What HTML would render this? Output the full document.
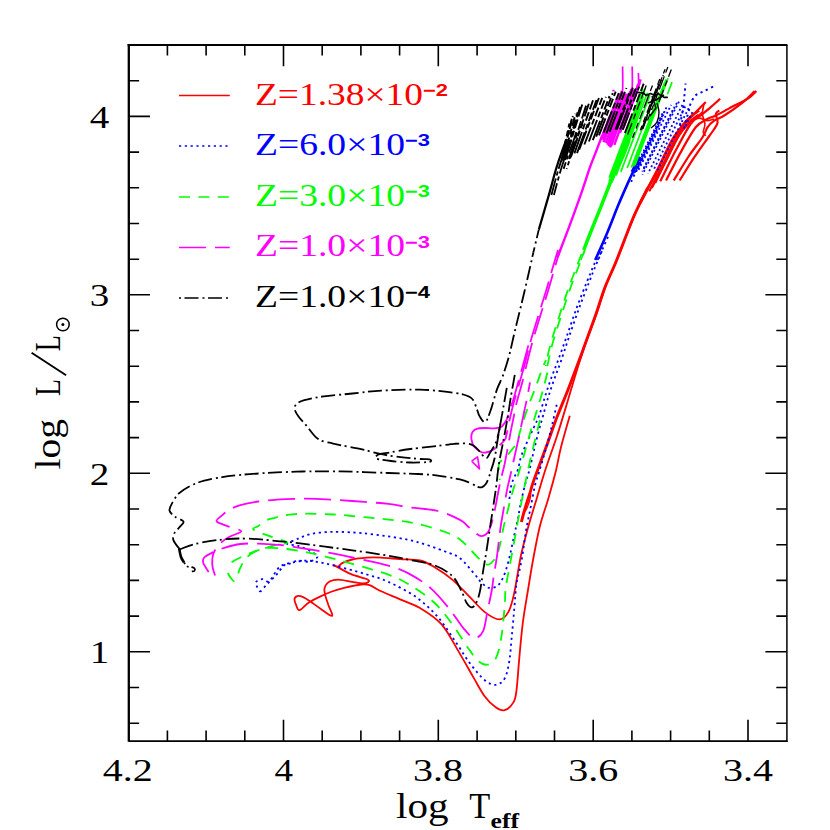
<!DOCTYPE html>
<html><head><meta charset="utf-8"><title>HR diagram</title>
<style>
html,body{margin:0;padding:0;background:#fff;}
body{width:830px;height:830px;overflow:hidden;font-family:"Liberation Serif",serif;}
svg{display:block;}
text{font-family:"Liberation Serif",serif;}
.sub{font-family:"Liberation Sans",sans-serif;font-weight:bold;}
</style></head><body>
<svg width="830" height="830" viewBox="0 0 830 830">
<rect width="830" height="830" fill="#fff"/>

<g fill="none" stroke-linejoin="round" stroke-linecap="butt">
<g stroke="#f00">
<path d="M569.8 415.7C568.3 420.9 563.4 437.6 561.1 446.7C558.8 455.8 558.2 461.3 556.1 470.0C554.0 478.7 551.0 489.3 548.2 498.9C545.4 508.5 542.1 516.9 539.5 527.8C536.9 538.6 534.2 553.6 532.3 564.0C530.4 574.4 529.6 580.2 528.0 590.0C526.4 599.8 524.3 611.3 522.8 623.0C521.3 634.7 520.1 649.4 519.1 660.4C518.1 671.4 517.5 682.4 516.6 689.3C515.7 696.2 515.7 698.4 513.7 701.9C511.7 705.4 507.7 709.3 504.7 710.2C501.7 711.1 499.0 709.6 495.7 707.3C492.4 705.0 488.4 701.3 484.8 696.5C481.2 691.7 478.2 685.6 474.0 678.4C469.8 671.2 464.9 662.1 459.5 653.1C454.1 644.1 448.0 631.7 441.4 624.2C434.8 616.7 426.9 612.2 420.0 608.0C413.1 603.8 406.5 602.1 400.0 599.3C393.5 596.5 386.3 593.7 381.2 591.3C376.1 589.0 373.0 586.2 369.6 585.1C366.3 584.0 365.1 584.1 361.0 584.5C356.9 585.0 350.1 586.5 345.1 587.7C340.0 589.0 334.7 590.6 330.6 592.0C326.5 593.5 324.1 594.6 320.5 596.4C316.9 598.1 312.4 600.2 308.9 602.5C305.4 604.7 301.6 609.7 299.5 610.1C297.4 610.6 297.0 606.9 296.2 605.1C295.3 603.2 294.3 600.8 294.5 599.3C294.6 597.8 295.9 596.5 297.3 596.1C298.8 595.7 301.0 596.2 303.1 597.1C305.3 598.0 307.5 599.5 310.4 601.4C313.3 603.4 316.9 606.3 320.5 608.7C324.1 611.1 330.7 616.5 332.0 615.9C333.4 615.3 329.6 608.6 328.4 605.1C327.3 601.6 325.8 597.7 325.1 594.9C324.5 592.2 324.1 590.4 324.5 588.4C324.9 586.5 325.9 584.5 327.4 583.1C328.9 581.7 331.3 580.7 333.5 580.2C335.7 579.6 337.6 579.5 340.7 579.8C343.9 580.0 348.7 581.3 352.3 581.9C355.9 582.5 359.7 583.4 362.4 583.4C365.1 583.4 367.8 582.6 368.5 581.9C369.2 581.2 369.4 580.2 366.7 579.0C364.0 577.8 356.4 576.3 352.3 574.7C348.2 573.1 345.3 571.3 342.2 569.6C339.0 568.0 334.2 565.3 333.5 564.9C332.8 564.4 336.4 567.0 337.8 566.7C339.3 566.5 339.8 564.3 342.2 563.1C344.6 561.9 348.2 560.4 352.3 559.5C356.4 558.6 361.9 558.0 366.7 557.6C371.6 557.3 375.7 557.4 381.2 557.6C386.7 557.9 393.5 558.6 400.0 559.1C406.5 559.6 414.3 559.2 420.0 560.5C425.7 561.8 428.8 563.8 434.2 567.0C439.6 570.2 446.3 574.5 452.3 579.6C458.3 584.7 465.0 592.3 470.4 597.7C475.8 603.1 480.0 608.5 484.8 612.1C489.6 615.7 495.4 619.4 499.3 619.4C503.2 619.4 505.9 616.3 508.3 612.1C510.8 607.9 511.9 603.3 514.0 594.1C516.1 584.9 518.4 567.8 520.7 556.7C523.0 545.7 525.4 537.4 528.0 527.8C530.6 518.2 533.7 508.5 536.6 498.9C539.5 489.3 541.9 480.5 545.3 470.0C548.7 459.5 553.2 447.7 557.0 436.0C560.8 424.3 564.7 411.0 568.0 400.0C571.3 389.0 574.1 379.3 577.0 370.0C579.9 360.7 582.1 353.6 585.4 344.0C588.7 334.4 593.6 321.8 597.0 312.2C600.4 302.6 602.4 294.8 605.7 286.1C609.0 277.4 613.4 268.7 616.9 260.0C620.4 251.3 623.9 241.9 627.0 234.0C630.1 226.1 632.1 220.3 635.7 212.3C639.3 204.3 645.1 192.5 648.7 186.0C652.3 179.5 655.7 175.5 657.1 173.4" stroke-width="1.8"/>
<path d="M521.4 522.0C521.8 520.3 523.1 515.3 524.0 512.0C524.9 508.7 526.0 505.2 527.0 502.0C528.0 498.8 528.9 496.5 530.0 493.0C531.1 489.5 531.1 488.2 533.6 481.0C536.1 473.8 541.4 460.1 545.2 449.6C549.1 439.1 552.9 427.9 556.7 417.8C560.6 407.7 564.7 398.2 568.3 388.9C571.9 379.6 575.8 369.1 578.5 362.0C581.2 354.9 581.5 354.0 584.4 346.0C587.3 338.0 592.6 323.7 596.0 314.0C599.4 304.3 601.4 296.7 604.7 288.0C608.0 279.3 612.4 270.7 615.9 262.0C619.4 253.3 622.9 243.9 626.0 236.0C629.1 228.1 631.1 222.3 634.7 214.3C638.3 206.3 645.5 192.4 647.7 188.0" stroke-width="2.9"/>
<path d="M524.5 512.0C525.0 510.0 526.5 503.0 527.5 500.0C528.5 497.0 530.1 494.2 530.5 494.0C530.9 493.8 530.6 496.7 530.0 499.0C529.4 501.3 527.9 505.8 527.0 508.0C526.1 510.2 524.9 511.3 524.5 512.0" stroke-width="1.4"/>
<path d="M640.0 203.2C642.8 197.9 651.2 182.2 656.9 171.2C662.5 160.2 668.1 146.5 673.7 137.5C679.4 128.5 686.4 121.7 690.6 117.2C694.8 112.7 697.6 111.6 699.0 110.5" stroke-width="2.8"/>
<path d="M655.2 183.0C657.4 178.2 664.2 163.9 668.7 154.3C673.2 144.8 677.7 132.7 682.2 125.7C686.7 118.6 691.7 116.1 695.7 112.2C699.6 108.2 704.1 103.7 705.8 102.0" stroke-width="2.2"/>
<path d="M660.2 181.3C662.8 176.3 670.4 160.5 675.4 151.0C680.5 141.4 686.4 129.9 690.6 124.0C694.8 118.1 697.3 118.3 700.7 115.5C704.1 112.7 707.6 109.9 710.8 107.1C714.1 104.3 718.6 100.1 720.1 98.7" stroke-width="2.2"/>
<path d="M666.1 180.5C668.5 175.8 675.6 161.5 680.5 152.6C685.4 143.8 691.2 133.0 695.7 127.3C700.2 121.7 704.1 120.9 707.5 118.9C710.8 116.9 711.4 117.8 715.9 115.5C720.4 113.3 729.1 108.2 734.5 105.4C739.8 102.6 744.3 101.1 747.9 98.7C751.6 96.3 755.0 92.3 756.4 91.1" stroke-width="2.2"/>
<path d="M673.7 180.5C676.3 176.4 684.1 163.2 688.9 156.0C693.7 148.8 699.3 142.2 702.4 137.5C705.5 132.7 705.5 130.2 707.5 127.3C709.4 124.5 711.4 122.6 714.2 120.6C717.0 118.6 719.8 118.3 724.3 115.5C728.8 112.7 736.1 107.8 741.2 103.7C746.3 99.7 752.4 93.2 754.7 91.1" stroke-width="2.2"/>
<path d="M679.6 180.5C682.0 176.7 689.6 164.3 694.0 157.7C698.3 151.1 702.4 145.6 705.8 140.8C709.2 136.1 712.2 132.1 714.2 129.0C716.2 125.9 717.3 124.8 717.6 122.3C717.9 119.8 715.6 115.8 715.9 113.9C716.2 111.9 718.7 111.0 719.3 110.5" stroke-width="2.2"/>
<path d="M704.1 103.7C703.8 105.4 702.3 110.5 702.4 113.9C702.5 117.2 704.8 120.9 704.9 124.0C705.1 127.1 703.1 130.4 703.2 132.4C703.4 134.4 705.4 135.2 705.8 135.8" stroke-width="1.6"/>
<path d="M649.3 191.4C651.5 186.9 658.3 173.4 662.8 164.5C667.3 155.5 671.9 144.5 676.3 137.5C680.6 130.4 685.3 126.1 688.9 122.3C692.6 118.5 696.6 116.0 698.2 114.7" stroke-width="2.0"/>
<path d="M651.8 188.1C654.1 183.8 660.7 171.6 665.3 162.8C669.9 153.9 675.1 142.0 679.6 134.9C684.1 127.9 688.5 124.4 692.3 120.6C696.1 116.8 700.7 113.6 702.4 112.2" stroke-width="1.8"/>
<path d="M690.6 120.6C692.0 120.2 696.2 118.1 699.0 118.1C701.8 118.1 704.9 120.5 707.5 120.6C710.0 120.7 713.1 119.2 714.2 118.9" stroke-width="1.6"/>
</g>
<g stroke="#00f">
<path d="M556.7 404.8C556.0 407.9 553.8 417.6 552.4 423.6C551.0 429.6 549.8 434.7 548.1 441.0C546.4 447.3 543.8 455.9 542.3 461.2C540.8 466.5 540.0 469.0 538.8 472.9C537.6 476.8 536.3 480.2 535.2 484.5C534.1 488.8 533.3 494.1 532.3 498.9C531.3 503.7 530.4 508.6 529.4 513.4C528.4 518.2 527.4 523.0 526.5 527.8C525.6 532.6 525.0 537.5 524.3 542.3C523.6 547.1 523.0 551.9 522.2 556.7C521.4 561.5 520.3 566.6 519.3 571.2C518.3 575.8 517.2 578.4 516.4 584.2C515.6 590.0 515.2 597.6 514.5 606.1C513.8 614.6 512.8 626.0 511.9 635.0C511.0 644.0 510.6 653.2 509.4 660.4C508.2 667.6 507.0 674.3 504.7 678.4C502.4 682.5 499.0 684.6 495.7 684.9C492.4 685.2 489.0 683.7 484.8 680.2C480.6 676.7 475.2 670.3 470.4 664.0C465.6 657.7 461.3 650.1 455.9 642.3C450.5 634.5 444.4 624.5 437.8 617.0C431.2 609.5 424.3 603.0 416.1 597.1C407.9 591.2 396.0 585.5 388.4 581.9C380.8 578.3 376.4 577.5 370.4 575.6C364.4 573.7 358.3 571.9 352.3 570.2C346.3 568.6 339.6 567.0 334.2 565.7C328.8 564.4 324.3 563.2 319.8 562.4C315.3 561.5 311.3 560.6 307.1 560.6C302.9 560.6 299.0 561.1 294.5 562.1C290.0 563.1 284.2 563.5 280.0 566.6C275.8 569.8 272.3 578.9 269.3 581.0C266.3 583.1 264.4 578.9 262.1 579.2C259.8 579.5 256.0 580.7 255.7 582.8C255.4 584.9 259.4 590.4 260.2 591.9" stroke-width="1.8" stroke-dasharray="2.2 3.6"/>
<path d="M260.2 591.9C261.4 590.5 264.8 586.6 267.5 583.7C270.2 580.8 273.8 577.7 276.5 574.7C279.2 571.7 281.6 567.5 283.7 565.7C285.8 563.9 286.6 564.8 289.0 563.9C291.4 563.0 294.8 561.0 298.1 560.6C301.4 560.2 305.9 562.1 308.9 561.7C311.9 561.3 314.8 559.4 316.1 558.4C317.5 557.4 317.9 556.9 317.0 555.7C316.1 554.5 313.8 552.9 310.7 551.2C307.6 549.6 302.0 547.0 298.1 545.8C294.2 544.6 287.2 545.2 287.2 544.0C287.2 542.8 294.2 540.3 298.1 538.6C302.0 536.9 306.2 535.1 310.7 534.0C315.2 532.9 320.4 532.6 325.2 532.2C330.0 531.9 333.6 531.8 339.6 531.9C345.6 532.0 353.2 532.4 361.3 533.1C369.4 533.9 379.3 535.0 388.4 536.4C397.5 537.8 406.7 539.2 416.1 541.7C425.6 544.2 437.8 548.8 445.1 551.5C452.4 554.2 455.1 554.4 460.0 558.2C464.9 562.0 470.9 570.0 474.5 574.1C478.1 578.2 479.3 580.5 481.7 582.8C484.1 585.1 486.2 587.3 488.9 587.8C491.5 588.3 495.2 587.5 497.6 585.7C500.0 583.9 501.7 580.6 503.4 577.0C505.1 573.4 506.5 568.1 507.7 564.0C508.9 559.9 509.4 557.7 510.6 552.4C511.8 547.1 513.7 537.7 514.9 532.2C516.1 526.7 516.8 524.0 517.8 519.2C518.8 514.4 519.5 509.1 520.7 503.3C521.9 497.5 523.7 490.1 525.1 484.5C526.5 478.9 527.9 475.8 529.4 470.0C530.9 464.2 532.4 456.7 534.0 450.0C535.6 443.3 537.5 435.7 539.0 430.0C540.5 424.3 541.5 421.3 543.0 416.0C544.5 410.7 546.2 404.0 548.0 398.0C549.8 392.0 551.8 386.2 554.0 380.0C556.2 373.8 558.5 368.2 561.0 361.0C563.5 353.8 566.0 345.8 569.0 337.0C572.0 328.2 575.7 317.6 579.0 308.5C582.3 299.4 586.2 289.8 589.0 282.5C591.8 275.2 593.8 270.2 596.0 265.0C598.2 259.8 601.0 253.3 602.0 251.0" stroke-width="1.8" stroke-dasharray="2.2 3.6"/>
<path d="M509.2 501.8C509.4 499.6 509.9 492.7 510.6 488.8C511.3 484.9 512.3 481.8 513.5 478.7C514.7 475.6 516.4 474.1 517.8 470.0C519.2 465.9 519.4 461.0 522.0 454.0C524.6 447.0 530.7 434.5 533.6 428.0C536.5 421.5 537.5 420.2 539.4 414.9C541.3 409.6 543.3 402.1 545.2 396.1C547.1 390.1 548.8 384.8 551.0 378.8C553.2 372.8 555.6 367.0 558.2 360.0C560.8 353.0 563.5 345.4 566.6 336.7C569.7 328.0 573.3 316.9 576.7 307.8C580.1 298.7 584.0 289.0 586.9 281.8C589.8 274.6 591.9 269.8 594.1 264.5C596.3 259.2 598.9 252.4 599.9 250.0" stroke-width="1.8" stroke-dasharray="2.2 3.6" stroke-dashoffset="2.9"/>
<path d="M595.2 260.0C597.1 255.7 602.9 243.2 606.7 234.0C610.6 224.8 614.7 213.8 618.3 205.1C621.9 196.4 625.5 188.4 628.4 181.9C631.3 175.4 633.8 170.2 635.7 166.0C637.6 161.8 639.3 158.5 640.0 157.0" stroke-width="2.6"/>
<path d="M597.7 260.0L609.2 234.0" stroke-width="1.8" stroke-dasharray="2.2 3.6"/>
<path d="M631.2 181.9C632.4 179.2 636.6 170.2 638.5 166.0C640.4 161.8 642.1 158.5 642.8 157.0" stroke-width="1.8" stroke-dasharray="2.2 3.6"/>
<path d="M636.6 171.6L657.6 129.6" stroke-width="1.8" stroke-dasharray="1.9 2.6" stroke-dashoffset="10.4"/>
<path d="M633.4 175.4L658.1 126.0" stroke-width="1.8" stroke-dasharray="1.9 2.6" stroke-dashoffset="1.0"/>
<path d="M636.0 171.2L660.4 122.5" stroke-width="1.8" stroke-dasharray="1.9 2.6" stroke-dashoffset="4.5"/>
<path d="M633.8 174.5L662.1 117.9" stroke-width="1.8" stroke-dasharray="1.9 2.6" stroke-dashoffset="1.9"/>
<path d="M632.3 173.6L662.8 112.8" stroke-width="1.8" stroke-dasharray="1.9 2.6" stroke-dashoffset="11.1"/>
<path d="M634.3 172.4L664.9 111.3" stroke-width="1.8" stroke-dasharray="1.9 2.6" stroke-dashoffset="9.0"/>
<path d="M633.3 173.7L666.8 106.7" stroke-width="1.8" stroke-dasharray="1.9 2.6" stroke-dashoffset="8.7"/>
<path d="M637.7 171.7L671.1 104.9" stroke-width="1.8" stroke-dasharray="1.9 2.6" stroke-dashoffset="2.5"/>
<path d="M642.4 170.7L674.3 106.9" stroke-width="1.8" stroke-dasharray="1.9 2.6" stroke-dashoffset="10.6"/>
<path d="M642.4 171.8L677.9 100.9" stroke-width="1.8" stroke-dasharray="1.9 2.6" stroke-dashoffset="5.9"/>
<path d="M642.4 174.6L679.2 101.1" stroke-width="1.8" stroke-dasharray="1.9 2.6" stroke-dashoffset="1.3"/>
<path d="M648.0 173.6L683.5 102.6" stroke-width="1.8" stroke-dasharray="1.9 2.6" stroke-dashoffset="10.7"/>
<path d="M653.1 170.8L686.1 104.8" stroke-width="1.8" stroke-dasharray="1.9 2.6" stroke-dashoffset="6.5"/>
<path d="M656.5 172.4L688.7 108.1" stroke-width="1.8" stroke-dasharray="1.9 2.6" stroke-dashoffset="11.1"/>
<path d="M684.0 128.9L692.4 112.2" stroke-width="1.8" stroke-dasharray="1.9 2.6" stroke-dashoffset="1.1"/>
<path d="M680.0 125.0C680.5 122.3 682.2 113.8 683.0 108.8C683.8 103.8 684.1 99.2 684.5 95.0C684.9 90.8 685.3 85.4 685.5 83.5" stroke-width="2.0" stroke-dasharray="2.2 3.6"/>
<path d="M684.0 128.0C684.8 125.1 687.8 114.5 688.9 110.5C690.0 106.5 689.5 106.2 690.6 103.7C691.7 101.2 693.5 97.4 695.7 95.3C698.0 93.2 701.0 92.6 704.1 91.1C707.2 89.5 712.5 86.8 714.2 86.0" stroke-width="2.0" stroke-dasharray="2.2 3.6"/>
<path d="M632.0 172.0C632.7 170.7 634.7 166.5 636.0 164.0C637.3 161.5 639.3 158.2 640.0 157.0" stroke-width="3.0"/>
</g>
<g stroke="#0f0">
<path d="M540.0 420.0C539.2 423.3 537.0 431.7 535.0 440.0C533.0 448.3 530.4 459.0 528.0 470.0C525.6 481.0 522.9 494.8 520.7 506.1C518.5 517.4 516.8 527.5 514.9 537.9C513.0 548.3 510.8 559.6 509.2 568.3C507.6 577.0 506.2 583.7 505.5 590.0C504.8 596.3 505.4 598.0 504.7 606.1C504.0 614.2 502.6 630.0 501.1 638.7C499.6 647.5 498.1 654.3 495.7 658.6C493.3 662.9 489.6 664.4 486.6 664.7C483.6 665.0 480.9 663.5 477.6 660.4C474.3 657.3 470.9 651.9 466.7 645.9C462.5 639.9 457.7 631.4 452.3 624.2C446.9 617.0 441.4 609.1 434.2 602.5C427.0 595.9 416.5 589.1 408.9 584.5C401.3 579.9 397.8 578.1 388.4 574.7C379.0 571.3 362.8 566.9 352.3 563.9C341.8 560.9 333.3 558.6 325.2 556.6C317.1 554.6 310.7 553.0 303.5 551.6C296.3 550.2 287.8 549.1 281.8 548.5C275.8 547.9 270.8 547.9 267.5 548.0C264.2 548.0 264.5 548.3 262.1 549.0C259.6 549.7 256.0 551.0 253.0 552.1C250.0 553.2 247.0 554.4 244.0 555.7C241.0 557.1 237.7 558.7 234.9 560.2C232.2 561.8 228.9 564.0 227.7 564.8" stroke-width="1.8" stroke-dasharray="11 8.4"/>
<path d="M227.7 572.9C228.2 573.7 229.4 576.1 230.4 577.4C231.5 578.8 232.8 581.5 234.0 581.0C235.2 580.6 236.6 577.0 237.7 574.7C238.7 572.4 239.0 570.2 240.4 567.5C241.7 564.8 243.5 561.0 245.8 558.4C248.0 555.9 250.6 553.9 253.9 552.1C257.2 550.4 261.9 549.2 265.7 548.0C269.4 546.8 272.9 545.8 276.5 544.9C280.1 544.0 287.4 543.6 287.4 542.5C287.4 541.5 279.8 539.8 276.5 538.6C273.2 537.4 270.2 536.3 267.5 535.3C264.8 534.3 262.7 533.8 260.2 532.8C257.8 531.7 253.3 530.1 253.0 529.0C252.7 527.8 256.3 527.3 258.4 525.9C260.5 524.5 263.0 521.8 265.7 520.5C268.4 519.1 271.7 518.6 274.7 517.8C277.7 516.9 280.4 516.0 283.7 515.4C287.1 514.8 290.7 514.5 294.6 514.2C298.5 513.9 300.5 513.5 307.1 513.6C313.7 513.7 325.2 514.0 334.2 514.5C343.2 515.0 352.3 516.0 361.3 516.9C370.3 517.8 379.3 518.5 388.4 519.6C397.5 520.7 406.7 521.5 416.1 523.6C425.6 525.7 437.8 529.4 445.1 532.0C452.4 534.6 455.6 536.2 460.0 539.4C464.4 542.6 468.0 547.4 471.6 551.0C475.2 554.6 478.9 558.8 481.7 561.1C484.5 563.4 486.1 564.9 488.2 564.7C490.2 564.5 492.4 562.0 494.0 560.0C495.6 558.0 496.7 555.8 497.9 552.4C499.1 549.0 500.3 543.5 501.2 539.4C502.1 535.3 502.5 531.6 503.4 527.8C504.2 523.9 505.2 520.6 506.3 516.3C507.4 512.0 508.7 506.4 509.9 501.8C511.1 497.2 512.2 492.9 513.5 488.8C514.8 484.7 515.8 482.6 517.5 477.0C519.2 471.4 521.8 462.8 524.0 455.0C526.2 447.2 528.8 437.5 531.0 430.0C533.2 422.5 535.0 416.7 537.0 410.0C539.0 403.3 541.2 396.7 543.0 390.0C544.8 383.3 547.2 373.3 548.0 370.0" stroke-width="1.8" stroke-dasharray="11 8.4"/>
<path d="M499.6 480.0C499.5 477.4 498.0 467.7 498.9 464.1C499.8 460.5 502.5 460.7 504.7 458.3C506.9 455.9 509.8 452.2 511.9 449.6C513.9 447.0 515.5 445.8 517.0 442.4C518.5 439.0 518.8 435.2 520.6 429.4C522.4 423.6 525.4 414.4 527.8 407.7C530.2 400.9 532.6 395.4 535.0 388.9C537.4 382.4 540.5 373.5 542.3 368.7C544.1 363.9 545.3 361.4 545.9 360.0" stroke-width="1.8" stroke-dasharray="11 8.4" stroke-dashoffset="9.4"/>
<path d="M547.4 366.0C548.2 362.3 549.9 353.0 552.4 344.0C554.9 335.0 559.3 321.7 562.4 312.0C565.5 302.3 568.4 293.5 571.1 286.0C573.8 278.5 576.1 273.0 578.4 267.0C580.7 261.0 583.8 252.8 584.9 250.0" stroke-width="1.8" stroke-dasharray="11 8.4"/>
<path d="M545.6 366.0C546.4 362.3 548.1 353.0 550.6 344.0C553.1 335.0 557.5 321.7 560.6 312.0C563.7 302.3 566.6 293.5 569.3 286.0C572.0 278.5 574.3 273.0 576.6 267.0C578.9 261.0 582.0 252.8 583.1 250.0" stroke-width="1.8" stroke-dasharray="11 8.4" stroke-dashoffset="9.7"/>
<path d="M583.3 250.0C584.3 247.3 586.4 241.5 589.4 234.0C592.4 226.5 597.1 214.8 601.0 205.1C604.9 195.4 609.1 183.8 612.5 176.1C615.9 168.4 618.6 164.8 621.2 158.8C623.9 152.8 627.2 143.1 628.4 140.0" stroke-width="2.5"/>
<path d="M580.9 260.0C582.6 255.7 587.4 243.2 591.0 234.0C594.6 224.8 598.8 214.8 602.6 205.1C606.5 195.4 610.7 183.8 614.1 176.1C617.5 168.4 620.2 164.8 622.8 158.8C625.5 152.8 628.8 143.1 630.0 140.0" stroke-width="1.5"/>
<path d="M609.0 185.9L630.5 129.2" stroke-width="1.7"/>
<path d="M611.3 181.3L632.3 126.0" stroke-width="1.7"/>
<path d="M609.9 183.5L633.1 122.5" stroke-width="1.7"/>
<path d="M612.3 180.1L635.1 119.9" stroke-width="1.7"/>
<path d="M612.7 180.4L637.0 116.6" stroke-width="1.7"/>
<path d="M611.5 182.8L639.0 110.3" stroke-width="1.7"/>
<path d="M610.2 183.7L639.3 106.8" stroke-width="1.7"/>
<path d="M611.2 182.6L640.9 104.4" stroke-width="1.7"/>
<path d="M611.9 180.7L642.9 99.2" stroke-width="1.7"/>
<path d="M610.3 183.4L643.4 96.3" stroke-width="1.7"/>
<path d="M609.0 181.9L643.2 91.9" stroke-width="1.7"/>
<path d="M609.2 177.6L643.0 88.7" stroke-width="1.7"/>
<path d="M610.9 179.0L645.4 88.3" stroke-width="1.7"/>
<path d="M616.1 175.5L647.5 92.7" stroke-width="1.7"/>
<path d="M620.8 171.9L649.9 95.2" stroke-width="1.7"/>
<path d="M627.2 168.0L654.5 96.2" stroke-width="1.7"/>
<path d="M631.4 167.5L657.9 97.9" stroke-width="1.7"/>
<path d="M633.7 163.4L659.6 95.0" stroke-width="1.7"/>
<path d="M633.6 166.5L661.7 92.3" stroke-width="1.7"/>
<path d="M634.4 163.6L663.2 87.8" stroke-width="1.7"/>
<path d="M634.0 163.2L664.6 82.7" stroke-width="1.7"/>
<path d="M633.7 165.0L666.2 79.4" stroke-width="1.7"/>
<path d="M635.0 165.3L668.1 78.2" stroke-width="1.7"/>
<path d="M667.4 94.3L672.0 82.1" stroke-width="1.7"/>
<path d="M616.0 172.0C617.0 169.7 619.6 163.2 621.7 158.0C623.9 152.8 627.7 143.8 628.9 141.0" stroke-width="2.4"/>
</g>
<g stroke="#f0f">
<path d="M501.6 427.0C500.3 427.2 496.8 428.2 493.9 428.4C491.0 428.6 487.2 427.9 484.3 428.0C481.4 428.1 478.5 428.3 476.6 428.9C474.7 429.5 473.6 430.5 472.7 431.8C471.8 433.1 471.4 434.8 471.3 436.6C471.2 438.4 471.6 440.6 472.2 442.4C472.8 444.2 472.9 445.5 474.6 447.2C476.3 448.9 479.9 451.8 482.3 452.5C484.7 453.2 486.9 452.3 489.1 451.6C491.4 450.9 493.7 449.6 495.8 448.2C497.9 446.8 500.0 444.9 501.6 443.4C503.2 441.9 504.9 439.7 505.5 439.0" stroke-width="1.8" stroke-dasharray="70 5"/>
<path d="M471.7 461.2L477.5 456.9L479.5 468.9L471.7 461.2" stroke-width="1.6"/>
<path d="M505.5 439.0C505.8 437.6 506.6 434.3 507.4 430.8C508.1 427.3 509.0 422.3 510.0 418.0C511.0 413.7 511.8 410.1 513.2 404.8C514.6 399.5 516.8 392.0 518.5 386.0C520.2 380.0 522.7 371.8 523.5 369.0" stroke-width="1.8" stroke-dasharray="27 9" stroke-dashoffset="18.0"/>
<path d="M525.5 369.0C526.6 364.8 529.5 352.5 532.0 343.5C534.5 334.5 538.0 323.4 540.6 314.8C543.2 306.2 545.6 298.9 547.8 291.7C550.0 284.5 551.6 278.6 553.6 271.6C555.6 264.7 558.9 253.6 560.0 250.0" stroke-width="1.8" stroke-dasharray="27 9"/>
<path d="M523.5 369.0C524.6 364.8 527.5 352.5 530.0 343.5C532.5 334.5 536.0 323.4 538.6 314.8C541.2 306.2 543.6 298.9 545.8 291.7C548.0 284.5 549.6 278.6 551.6 271.6C553.6 264.7 556.9 253.6 558.0 250.0" stroke-width="1.8" stroke-dasharray="27 9" stroke-dashoffset="8.0"/>
<path d="M501.6 427.0C502.4 425.9 505.0 423.0 506.4 420.2C507.8 417.4 508.7 413.4 509.8 410.0C510.9 406.6 511.8 404.5 513.2 400.0C514.6 395.5 516.5 388.5 518.0 383.0C519.5 377.5 520.7 373.7 522.5 367.0C524.3 360.3 527.9 347.0 529.0 343.0" stroke-width="1.8" stroke-dasharray="27 9" stroke-dashoffset="13.0"/>
<path d="M208.7 572.0C207.8 570.5 204.1 565.4 203.3 563.0C202.6 560.5 202.6 559.3 204.2 557.5C205.9 555.7 210.2 553.6 213.3 552.1C216.3 550.6 217.8 549.9 222.3 548.5C226.8 547.1 234.3 544.8 240.4 544.0C246.4 543.2 252.4 543.5 258.4 543.6C264.5 543.8 272.9 544.7 276.5 544.9C280.1 545.1 276.4 544.4 280.0 544.9C283.6 545.4 290.6 546.4 298.1 547.6C305.6 548.8 316.2 550.5 325.2 552.1C334.2 553.8 341.8 555.2 352.3 557.5C362.8 559.8 379.0 563.0 388.4 565.7C397.8 568.4 401.9 569.9 408.9 573.6C415.9 577.3 424.0 582.4 430.6 588.1C437.2 593.8 443.3 601.4 448.7 608.0C454.1 614.6 458.9 622.8 463.1 627.8C467.3 632.8 470.7 637.4 474.0 638.0C477.3 638.6 480.7 636.1 483.0 631.4C485.3 626.7 486.2 616.7 487.7 609.8C489.2 602.9 490.8 596.0 491.8 590.0C492.9 584.0 493.1 579.6 494.0 574.1C494.9 568.6 495.8 564.4 496.9 556.7C498.0 549.0 499.4 535.5 500.5 527.8C501.6 520.1 502.3 516.8 503.4 510.5C504.5 504.2 506.0 495.3 507.0 490.2C508.0 485.1 507.9 486.0 509.3 480.0C510.7 474.0 513.5 461.2 515.1 454.0C516.7 446.8 517.7 442.6 519.0 436.6C520.3 430.7 521.8 423.0 522.8 418.3C523.8 413.6 524.1 411.8 524.8 408.7C525.4 405.6 525.8 404.4 526.7 400.0C527.6 395.6 529.5 385.3 530.0 382.4" stroke-width="1.8" stroke-dasharray="27 9"/>
<path d="M215.1 575.6C214.6 574.0 212.7 569.3 212.4 565.7C212.1 562.1 212.1 557.5 213.3 553.9C214.5 550.3 216.9 546.8 219.6 544.0C222.3 541.1 225.9 538.9 229.5 536.8C233.1 534.6 241.3 533.0 241.3 531.3C241.3 529.7 232.7 528.0 229.5 526.8C226.4 525.6 224.5 525.1 222.3 524.1C220.1 523.1 216.5 522.5 216.5 521.0C216.5 519.5 220.1 517.0 222.3 515.1C224.5 513.2 226.5 511.3 229.5 509.6C232.5 508.0 235.5 506.5 240.4 505.1C245.2 503.8 252.4 502.4 258.4 501.5C264.5 500.6 270.5 500.2 276.5 499.7C282.5 499.2 288.0 498.9 294.6 498.8C301.2 498.6 306.5 498.4 316.1 498.8C325.7 499.2 340.2 500.1 352.3 501.0C364.4 501.9 379.0 502.8 388.4 503.9C397.8 504.9 400.7 506.1 408.9 507.3C417.1 508.5 429.3 508.9 437.8 511.0C446.3 513.1 455.1 517.4 460.0 519.9C464.9 522.4 464.8 523.7 467.2 525.7C469.6 527.8 472.1 530.5 474.5 532.2C476.9 534.0 479.5 536.1 481.7 536.2C483.9 536.3 485.9 534.8 487.5 532.9C489.1 531.0 490.0 528.1 491.1 524.9C492.2 521.6 493.2 517.0 494.0 513.4C494.8 509.8 495.4 506.9 496.1 503.3C496.8 499.7 497.5 495.6 498.3 491.7C499.1 487.8 499.7 484.5 500.7 480.0C501.7 475.5 503.4 469.8 504.5 464.6C505.6 459.4 506.5 454.1 507.5 449.0C508.5 443.9 509.3 438.9 510.3 433.7C511.3 428.5 512.5 422.8 513.5 418.0C514.5 413.2 514.9 410.0 516.1 404.8C517.4 399.6 519.4 392.8 521.0 387.0C522.6 381.2 524.8 372.8 525.5 370.0" stroke-width="1.8" stroke-dasharray="27 9"/>
<path d="M557.6 257.1C559.5 252.0 565.4 237.1 569.2 226.7C573.1 216.3 577.3 204.5 580.7 194.9C584.1 185.3 586.8 176.4 589.4 168.9C592.0 161.4 594.5 155.7 596.6 150.1C598.8 144.5 601.3 137.7 602.3 135.2" stroke-width="2.4"/>
<path d="M601.5 138.4L605.5 127.2" stroke-width="2.5"/>
<path d="M602.6 137.0L606.9 125.1" stroke-width="2.5"/>
<path d="M602.1 139.2L608.3 122.1" stroke-width="2.5"/>
<path d="M602.2 137.8L609.1 118.9" stroke-width="2.5"/>
<path d="M602.3 137.3L609.9 116.3" stroke-width="2.5"/>
<path d="M602.5 138.9L611.7 113.7" stroke-width="2.5"/>
<path d="M603.2 136.9L612.6 111.0" stroke-width="2.5"/>
<path d="M602.2 139.2L613.2 108.7" stroke-width="2.5"/>
<path d="M603.1 138.7L614.3 107.6" stroke-width="2.5"/>
<path d="M602.8 139.4L615.3 105.0" stroke-width="2.5"/>
<path d="M603.2 139.3L617.0 101.2" stroke-width="2.5"/>
<path d="M602.8 138.0L617.3 98.1" stroke-width="2.5"/>
<path d="M603.2 138.7L618.3 96.9" stroke-width="2.5"/>
<path d="M604.2 139.7L620.6 94.2" stroke-width="2.5"/>
<path d="M603.5 142.2L622.0 91.0" stroke-width="2.5"/>
<path d="M605.8 142.9L624.1 92.6" stroke-width="2.5"/>
<path d="M607.4 144.8L626.0 93.6" stroke-width="2.5"/>
<path d="M608.7 146.3L627.8 93.6" stroke-width="2.5"/>
<path d="M610.0 147.4L630.3 91.5" stroke-width="2.5"/>
<path d="M611.0 146.2L631.6 89.0" stroke-width="2.5"/>
<path d="M614.3 144.8L634.2 89.7" stroke-width="2.5"/>
<path d="M620.0 132.8L635.8 89.3" stroke-width="2.5"/>
<path d="M622.3 129.5L637.3 88.0" stroke-width="2.5"/>
<path d="M622.2 128.9L638.4 84.0" stroke-width="2.5"/>
<path d="M623.6 127.1L639.6 83.0" stroke-width="2.5"/>
<path d="M622.7 128.9L640.6 79.4" stroke-width="2.5"/>
<path d="M620.5 100.0C620.9 98.3 622.2 95.6 622.6 90.0C623.0 84.4 622.6 70.5 622.6 66.6" stroke-width="1.7"/>
<path d="M630.0 99.0C630.4 97.2 631.8 93.4 632.2 88.0C632.6 82.6 632.2 70.2 632.2 66.6" stroke-width="1.7"/>
<path d="M635.5 97.0C636.0 95.2 637.9 90.0 638.4 86.0C638.9 82.0 638.4 75.2 638.4 73.0" stroke-width="1.7"/>
<path d="M612.3 90.6L614.6 90.6" stroke-width="1.6"/>
</g>
<g stroke="#000">
<path d="M514.8 374.9C514.6 375.7 514.5 376.3 513.9 379.8C513.3 383.3 512.0 389.8 511.0 396.1C509.9 402.4 508.9 410.3 507.6 417.8C506.3 425.3 504.8 433.3 503.3 441.0C501.9 448.7 500.1 456.4 498.9 464.1C497.7 471.8 497.0 480.3 496.1 487.3C495.2 494.3 494.2 499.8 493.3 506.1C492.4 512.4 491.5 517.7 490.4 524.9C489.3 532.1 487.9 541.8 486.7 549.5C485.5 557.2 484.2 564.5 483.1 571.2C482.0 578.0 481.2 585.0 480.2 590.0C479.2 595.0 478.2 598.4 476.9 601.3C475.6 604.2 473.9 607.1 472.2 607.4C470.5 607.7 468.5 605.9 466.7 603.1C464.9 600.3 463.7 595.0 461.3 590.5C458.9 586.0 456.8 580.2 452.3 576.0C447.8 571.8 441.4 567.9 434.2 565.2C427.0 562.5 416.5 561.3 408.9 559.7C401.3 558.1 397.8 557.3 388.4 555.7C379.0 554.1 362.8 551.8 352.3 550.3C341.8 548.8 334.2 547.9 325.2 546.7C316.2 545.5 305.6 544.0 298.1 543.1C290.6 542.2 288.4 542.1 280.0 541.3C271.6 540.5 257.2 538.9 247.6 538.6C238.0 538.3 231.0 538.6 222.3 539.5C213.6 540.4 202.3 542.3 195.2 544.0C188.1 545.6 182.4 548.5 179.8 549.4" stroke-width="1.8" stroke-dasharray="14 4 2 3.5"/>
<path d="M179.2 548.8C179.5 550.2 180.2 554.7 181.0 557.0C181.8 559.3 183.5 561.6 184.0 562.5" stroke-width="2.6"/>
<path d="M184.0 562.5C184.6 563.2 186.3 565.7 187.5 566.5C188.7 567.3 190.5 567.2 191.1 567.3" stroke-width="1.8" stroke-dasharray="2 2.5"/>
<path d="M191.5 567.0C192.0 567.2 194.1 567.8 194.6 568.5C195.1 569.2 194.9 570.5 194.4 571.0C193.9 571.5 192.2 571.4 191.8 571.5" stroke-width="1.7"/>
<path d="M179.8 549.4C178.8 547.9 174.4 543.1 173.5 540.4C172.6 537.7 173.2 535.5 174.4 533.1C175.6 530.7 179.2 527.9 180.7 525.9C182.2 524.0 184.3 522.9 183.4 521.4C182.5 519.9 177.6 518.7 175.3 516.9C173.0 515.1 170.0 513.0 169.5 510.5C169.1 508.1 171.0 505.3 172.6 502.4C174.2 499.6 176.1 496.1 178.9 493.4C181.8 490.7 185.5 488.3 189.8 486.1C194.0 484.0 198.8 482.2 204.2 480.7C209.6 479.2 216.3 478.1 222.3 477.1C228.3 476.1 234.3 475.5 240.4 474.9C246.4 474.3 252.4 473.9 258.4 473.5C264.5 473.1 270.2 472.7 276.5 472.4C282.8 472.1 289.8 471.9 296.4 471.7C303.0 471.5 306.8 471.3 316.1 471.3C325.4 471.3 340.2 471.4 352.3 471.7C364.4 472.0 377.4 472.6 388.4 473.0C399.4 473.4 410.2 473.6 418.1 474.0C426.1 474.4 429.1 474.5 436.1 475.4C443.1 476.3 454.3 478.1 460.0 479.4C465.7 480.7 467.2 481.8 470.1 483.0C473.0 484.2 475.4 485.9 477.3 486.6C479.2 487.3 480.2 487.8 481.7 487.3C483.1 486.8 484.8 485.4 486.0 483.7C487.2 482.0 488.0 479.5 488.9 477.2C489.8 474.9 490.2 473.1 491.1 470.0C492.1 466.9 493.3 464.6 494.6 458.3C495.9 452.0 497.4 440.7 498.9 432.3C500.3 423.9 501.9 415.6 503.3 407.7C504.7 399.8 506.6 388.8 507.3 385.0" stroke-width="1.8" stroke-dasharray="14 4 2 3.5"/>
<path d="M500.5 424.0C499.8 426.8 498.2 436.2 496.5 441.0C494.8 445.8 492.0 449.6 490.2 452.5C488.4 455.4 487.7 458.5 485.9 458.3C484.1 458.1 481.5 453.4 479.5 451.4C477.5 449.3 476.2 447.3 474.1 446.0C472.0 444.7 470.2 444.0 466.9 443.6C463.6 443.2 457.8 443.6 454.2 443.8C450.6 444.0 452.3 444.1 445.0 445.0C437.7 445.9 419.3 447.8 410.3 449.0C401.3 450.2 396.1 451.4 391.0 452.3C385.9 453.2 382.1 453.4 379.5 454.2C376.9 455.0 375.9 456.3 375.6 457.1C375.3 457.9 374.9 458.4 377.5 459.0C380.1 459.6 385.5 460.4 391.0 461.0C396.5 461.6 403.9 462.4 410.3 462.5C416.7 462.6 426.0 462.4 429.2 461.9C432.4 461.4 431.2 459.9 429.6 459.4C428.1 458.9 424.7 459.4 419.9 459.0C415.1 458.6 407.1 457.9 400.7 457.1C394.3 456.3 387.8 455.5 381.4 454.2C375.0 452.9 370.1 451.2 362.1 449.4C354.1 447.6 340.6 445.4 333.2 443.6C325.8 441.8 322.3 441.9 317.8 438.8C313.3 435.8 309.4 429.0 306.2 425.3C303.0 421.6 300.4 419.3 298.5 416.6C296.6 413.9 294.9 411.0 294.6 408.9C294.3 406.8 295.0 405.6 296.6 404.1C298.2 402.7 299.8 401.5 304.3 400.2C308.8 398.9 315.6 397.5 323.6 396.4C331.6 395.3 342.9 394.5 352.5 393.5C362.1 392.5 370.2 391.2 381.4 390.6C392.6 390.0 409.3 389.4 419.9 389.6C430.5 389.8 438.0 390.9 445.2 391.7C452.4 392.5 458.8 393.3 463.3 394.5C467.8 395.7 470.1 396.6 472.3 399.0C474.6 401.4 475.6 406.0 476.8 408.9C478.0 411.8 478.1 413.9 479.5 416.1C480.9 418.3 483.4 423.1 485.2 422.2C487.0 421.3 488.4 416.5 490.4 411.0C492.4 405.5 494.9 395.2 497.0 389.4C499.1 383.5 500.9 381.2 502.8 375.9C504.7 370.6 506.8 364.0 508.6 357.6C510.4 351.2 512.0 343.3 513.4 337.3C514.8 331.3 515.3 329.2 517.2 321.4C519.1 313.6 522.0 302.0 524.7 290.5C527.4 279.0 532.0 258.6 533.4 252.2" stroke-width="1.8" stroke-dasharray="14 4 2 3.5"/>
<path d="M533.4 252.2L538.8 229.6" stroke-width="1.8" stroke-dasharray="14 4 2 3.5" stroke-dashoffset="9.0"/>
<path d="M538.8 229.6C540.5 223.8 546.0 205.0 548.9 194.9C551.8 184.8 553.9 176.1 556.1 168.9C558.3 161.7 560.2 156.4 561.9 151.6C563.6 146.8 565.6 141.9 566.3 140.0" stroke-width="2.2"/>
<path d="M561.6 159.1L569.4 123.5" stroke-width="1.9" stroke-dasharray="24 3 6 3 9 3" stroke-dashoffset="3.6"/>
<path d="M562.7 157.4L571.8 118.8" stroke-width="1.9" stroke-dasharray="24 3 6 3 9 3" stroke-dashoffset="5.0"/>
<path d="M561.6 161.1L572.9 116.1" stroke-width="1.9" stroke-dasharray="24 3 6 3 9 3" stroke-dashoffset="2.8"/>
<path d="M563.3 159.8L575.5 113.7" stroke-width="1.9" stroke-dasharray="24 3 6 3 9 3" stroke-dashoffset="0.9"/>
<path d="M564.7 158.6L577.6 112.3" stroke-width="1.9" stroke-dasharray="24 3 6 3 9 3" stroke-dashoffset="4.4"/>
<path d="M564.6 160.0L580.1 107.0" stroke-width="1.9" stroke-dasharray="24 3 6 3 9 3" stroke-dashoffset="3.5"/>
<path d="M565.2 159.7L582.2 104.5" stroke-width="1.9" stroke-dasharray="24 3 6 3 9 3" stroke-dashoffset="2.8"/>
<path d="M568.9 158.9L586.1 105.6" stroke-width="1.9" stroke-dasharray="24 3 6 3 9 3" stroke-dashoffset="5.5"/>
<path d="M571.0 156.6L588.8 103.8" stroke-width="1.9" stroke-dasharray="24 3 6 3 9 3" stroke-dashoffset="5.6"/>
<path d="M574.4 153.4L593.0 100.3" stroke-width="1.9" stroke-dasharray="24 3 6 3 9 3" stroke-dashoffset="1.3"/>
<path d="M577.0 153.2L596.5 100.0" stroke-width="1.9" stroke-dasharray="24 3 6 3 9 3" stroke-dashoffset="1.8"/>
<path d="M579.2 149.7L598.9 98.0" stroke-width="1.9" stroke-dasharray="24 3 6 3 9 3" stroke-dashoffset="3.5"/>
<path d="M584.4 144.5L602.2 97.9" stroke-width="1.9" stroke-dasharray="24 3 6 3 9 3" stroke-dashoffset="5.6"/>
<path d="M588.9 141.5L605.9 96.8" stroke-width="1.9" stroke-dasharray="24 3 6 3 9 3" stroke-dashoffset="1.0"/>
<path d="M592.8 140.1L609.5 96.2" stroke-width="1.9" stroke-dasharray="24 3 6 3 9 3" stroke-dashoffset="3.4"/>
<path d="M596.2 136.6L612.8 93.1" stroke-width="1.9" stroke-dasharray="24 3 6 3 9 3" stroke-dashoffset="3.4"/>
<path d="M599.0 135.3L615.7 91.7" stroke-width="1.9" stroke-dasharray="24 3 6 3 9 3" stroke-dashoffset="5.9"/>
<path d="M603.6 132.7L618.8 93.0" stroke-width="1.9" stroke-dasharray="24 3 6 3 9 3" stroke-dashoffset="0.9"/>
<path d="M606.5 133.3L622.4 91.4" stroke-width="1.9" stroke-dasharray="24 3 6 3 9 3" stroke-dashoffset="0.3"/>
<path d="M609.6 131.9L626.4 88.0" stroke-width="1.9" stroke-dasharray="24 3 6 3 9 3" stroke-dashoffset="2.0"/>
<path d="M615.4 129.7L630.4 90.4" stroke-width="1.9" stroke-dasharray="24 3 6 3 9 3" stroke-dashoffset="6.0"/>
<path d="M616.9 129.5L633.1 87.0" stroke-width="1.9" stroke-dasharray="24 3 6 3 9 3" stroke-dashoffset="0.2"/>
<path d="M620.1 129.7L636.3 87.2" stroke-width="1.9" stroke-dasharray="24 3 6 3 9 3" stroke-dashoffset="0.9"/>
<path d="M622.7 129.7L639.1 86.6" stroke-width="1.9" stroke-dasharray="24 3 6 3 9 3" stroke-dashoffset="5.8"/>
<path d="M624.9 133.0L643.7 83.6" stroke-width="1.9" stroke-dasharray="24 3 6 3 9 3" stroke-dashoffset="3.1"/>
<path d="M627.6 134.6L647.3 82.7" stroke-width="1.3" stroke-dasharray="14 4 6 4 9 3" stroke-dashoffset="1.5"/>
<path d="M632.5 137.8L652.8 84.6" stroke-width="1.3" stroke-dasharray="14 4 6 4 9 3" stroke-dashoffset="8.0"/>
<path d="M641.4 130.0L658.9 84.0" stroke-width="1.3" stroke-dasharray="14 4 6 4 9 3" stroke-dashoffset="2.8"/>
<path d="M640.3 130.2L660.1 78.2" stroke-width="1.3" stroke-dasharray="14 4 6 4 9 3" stroke-dashoffset="9.3"/>
<path d="M642.9 128.7L663.3 75.0" stroke-width="1.3" stroke-dasharray="14 4 6 4 9 3" stroke-dashoffset="1.9"/>
<path d="M642.2 129.1L665.1 69.2" stroke-width="1.3" stroke-dasharray="14 4 6 4 9 3" stroke-dashoffset="8.5"/>
<path d="M647.5 120.6L669.0 64.0" stroke-width="1.3" stroke-dasharray="14 4 6 4 9 3" stroke-dashoffset="6.7"/>
<path d="M658.9 102.0L671.3 69.4" stroke-width="1.3" stroke-dasharray="14 4 6 4 9 3" stroke-dashoffset="0.9"/>
<path d="M551.4 194.9C552.6 190.6 556.4 176.1 558.6 168.9C560.8 161.7 563.4 154.5 564.4 151.6" stroke-width="1.8" stroke-dasharray="22 3 4 3" stroke-dashoffset="5.0"/>
<path d="M553.9 194.9C555.1 190.6 558.9 176.1 561.1 168.9C563.3 161.7 565.2 156.4 566.9 151.6C568.6 146.8 570.6 141.9 571.3 140.0" stroke-width="1.8" stroke-dasharray="22 3 4 3" stroke-dashoffset="10.0"/>
<path d="M563.6 168.9C564.6 166.0 567.7 156.4 569.4 151.6C571.1 146.8 572.6 143.4 573.8 140.0C575.0 136.6 576.0 132.5 576.5 131.0" stroke-width="1.8" stroke-dasharray="22 3 4 3" stroke-dashoffset="15.0"/>
<path d="M566.6 168.9C567.6 166.0 570.7 156.4 572.4 151.6C574.1 146.8 575.6 143.4 576.8 140.0C578.0 136.6 578.5 133.7 579.5 131.0C580.5 128.3 582.0 125.2 582.5 124.0" stroke-width="1.8" stroke-dasharray="22 3 4 3" stroke-dashoffset="21.0"/>
<path d="M636.0 92.1L643.7 93.1L646.0 95.5L650.5 93.6L655.3 95.5L658.2 93.6L664.0 97.4L667.8 97.4" stroke-width="1.6"/>
<path d="M651.0 128.0C652.0 127.0 655.7 124.7 657.0 122.0C658.3 119.3 659.0 115.2 659.0 112.0C659.0 108.8 657.3 104.5 657.0 103.0" stroke-width="1.4"/>
<path d="M648.0 103.0L656.0 100.0L664.0 95.0" stroke-width="1.5"/>
<path d="M652.0 96.0L656.0 108.0L650.0 116.0" stroke-width="1.4"/>
</g>
</g>
<g stroke="#000" fill="none" stroke-linecap="butt">
<path d="M128.79999999999998 44.0V741.75" stroke-width="2.3"/><path d="M127.6 45.0H787.45" stroke-width="2"/><path d="M786.9000000000001 45.0V741.85" stroke-width="1.5"/><path d="M128.7 741.15H787.6" stroke-width="1.7"/>
<path d="M167.4 741.0v-10.4M167.4 45.0v10.4M206.1 741.0v-10.4M206.1 45.0v10.4M244.8 741.0v-10.4M244.8 45.0v10.4M283.5 741.0v-21.3M283.5 45.0v21.3M322.2 741.0v-10.4M322.2 45.0v10.4M360.9 741.0v-10.4M360.9 45.0v10.4M399.6 741.0v-10.4M399.6 45.0v10.4M438.3 741.0v-21.3M438.3 45.0v21.3M477.1 741.0v-10.4M477.1 45.0v10.4M515.8 741.0v-10.4M515.8 45.0v10.4M554.5 741.0v-10.4M554.5 45.0v10.4M593.2 741.0v-21.3M593.2 45.0v21.3M631.9 741.0v-10.4M631.9 45.0v10.4M670.6 741.0v-10.4M670.6 45.0v10.4M709.3 741.0v-10.4M709.3 45.0v10.4M748.0 741.0v-21.3M748.0 45.0v21.3M128.7 723.2h10.4M786.7 723.2h-10.4M128.7 687.5h10.4M786.7 687.5h-10.4M128.7 651.8h21.3M786.7 651.8h-21.3M128.7 616.1h10.4M786.7 616.1h-10.4M128.7 580.4h10.4M786.7 580.4h-10.4M128.7 544.7h10.4M786.7 544.7h-10.4M128.7 509.0h10.4M786.7 509.0h-10.4M128.7 473.3h21.3M786.7 473.3h-21.3M128.7 437.6h10.4M786.7 437.6h-10.4M128.7 401.9h10.4M786.7 401.9h-10.4M128.7 366.2h10.4M786.7 366.2h-10.4M128.7 330.5h10.4M786.7 330.5h-10.4M128.7 294.8h21.3M786.7 294.8h-21.3M128.7 259.2h10.4M786.7 259.2h-10.4M128.7 223.5h10.4M786.7 223.5h-10.4M128.7 187.8h10.4M786.7 187.8h-10.4M128.7 152.1h10.4M786.7 152.1h-10.4M128.7 116.4h21.3M786.7 116.4h-21.3M128.7 80.7h10.4M786.7 80.7h-10.4" stroke-width="1.6"/>
</g>
<text x="127.7" y="780.7" font-size="32.5" text-anchor="middle" fill="#000" textLength="50" lengthAdjust="spacingAndGlyphs">4.2</text>
<text x="283.8" y="780.7" font-size="32.5" text-anchor="middle" fill="#000" textLength="18.5" lengthAdjust="spacingAndGlyphs">4</text>
<text x="438.1" y="780.7" font-size="32.5" text-anchor="middle" fill="#000" textLength="50" lengthAdjust="spacingAndGlyphs">3.8</text>
<text x="593.3" y="780.7" font-size="32.5" text-anchor="middle" fill="#000" textLength="50" lengthAdjust="spacingAndGlyphs">3.6</text>
<text x="747.9" y="780.7" font-size="32.5" text-anchor="middle" fill="#000" textLength="50" lengthAdjust="spacingAndGlyphs">3.4</text>
<text x="99.6" y="127.88461538461536" font-size="32.5" text-anchor="middle" fill="#000" textLength="19.5" lengthAdjust="spacingAndGlyphs">4</text>
<text x="99.6" y="306.3461538461538" font-size="32.5" text-anchor="middle" fill="#000" textLength="19.5" lengthAdjust="spacingAndGlyphs">3</text>
<text x="99.6" y="484.8076923076923" font-size="32.5" text-anchor="middle" fill="#000" textLength="19.5" lengthAdjust="spacingAndGlyphs">2</text>
<text x="99.6" y="663.2692307692307" font-size="32.5" text-anchor="middle" fill="#000" textLength="19.5" lengthAdjust="spacingAndGlyphs">1</text>
<text x="396" y="817.8" font-size="36" textLength="52.5" lengthAdjust="spacingAndGlyphs">log</text>
<text x="469.2" y="817.8" font-size="36" textLength="21" lengthAdjust="spacingAndGlyphs">T</text>
<text x="490.5" y="827.6" font-size="21" font-weight="bold" textLength="28.5" lengthAdjust="spacingAndGlyphs">eff</text>
<g transform="translate(59.5,469.5) rotate(-90)">
<text x="0" y="0" font-size="36" textLength="50.5" lengthAdjust="spacingAndGlyphs">log</text>
<text x="73.5" y="0" font-size="36" textLength="17" lengthAdjust="spacingAndGlyphs">L</text>
<path d="M94.2 6.6L116.7 -27.9" stroke="#000" stroke-width="1.9" fill="none"/>
<text x="118.3" y="0" font-size="36" textLength="16" lengthAdjust="spacingAndGlyphs">L</text>
<circle cx="145" cy="3.4" r="6.3" fill="none" stroke="#000" stroke-width="1.5"/><circle cx="145" cy="3.4" r="1.5" fill="#000"/>
</g>
<path d="M179 95.5H229.8" stroke="#f00" stroke-width="1.5" fill="none"/>
<text x="255" y="104.5" font-size="30.5" fill="#f00" textLength="168" lengthAdjust="spacingAndGlyphs">Z=1.38×10</text>
<text class="sub" x="423" y="95.8" font-size="16.5" fill="#f00" textLength="25" lengthAdjust="spacingAndGlyphs">−2</text>
<path d="M179 146H229.8" stroke="#00f" stroke-width="1.5" fill="none" stroke-dasharray="2.2 3.6"/>
<text x="255" y="155" font-size="30.5" fill="#00f" textLength="150" lengthAdjust="spacingAndGlyphs">Z=6.0×10</text>
<text class="sub" x="405" y="146.3" font-size="16.5" fill="#00f" textLength="25" lengthAdjust="spacingAndGlyphs">−3</text>
<path d="M179 197H229.8" stroke="#0f0" stroke-width="1.5" fill="none" stroke-dasharray="11 8.4"/>
<text x="255" y="206" font-size="30.5" fill="#0f0" textLength="150" lengthAdjust="spacingAndGlyphs">Z=3.0×10</text>
<text class="sub" x="405" y="197.3" font-size="16.5" fill="#0f0" textLength="25" lengthAdjust="spacingAndGlyphs">−3</text>
<path d="M179 247.4H229.8" stroke="#f0f" stroke-width="1.5" fill="none" stroke-dasharray="27 9"/>
<text x="255" y="256.4" font-size="30.5" fill="#f0f" textLength="150" lengthAdjust="spacingAndGlyphs">Z=1.0×10</text>
<text class="sub" x="405" y="247.70000000000002" font-size="16.5" fill="#f0f" textLength="25" lengthAdjust="spacingAndGlyphs">−3</text>
<path d="M179 298H229.8" stroke="#000" stroke-width="1.5" fill="none" stroke-dasharray="14 4 2 3.5" stroke-dashoffset="18"/>
<text x="255" y="307" font-size="30.5" fill="#000" textLength="150" lengthAdjust="spacingAndGlyphs">Z=1.0×10</text>
<text class="sub" x="405" y="298.3" font-size="16.5" fill="#000" textLength="25" lengthAdjust="spacingAndGlyphs">−4</text>
</svg></body></html>
